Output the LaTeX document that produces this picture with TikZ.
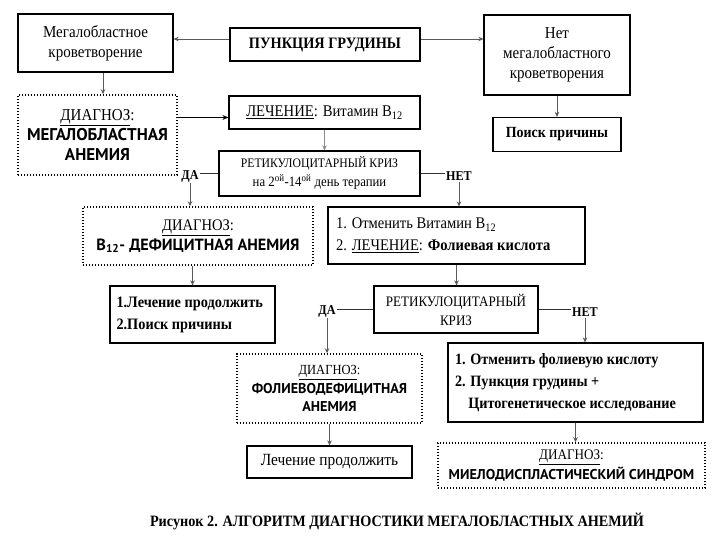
\documentclass[tikz,border=0pt]{standalone}
\usepackage{fontspec}
\setmainfont{Liberation Serif}[FakeStretch=0.9]
\newfontfamily\ptsans{PT Sans}
\usetikzlibrary{arrows.meta}
\newcommand{\sfdiag}{\ptsans\bfseries}
\newcommand{\fs}[2]{\fontsize{#1}{#2}\selectfont}
\tikzset{
  box/.style={draw=black, line width=1.2pt, inner sep=0pt, align=center},
  lbox/.style={draw=black, line width=1.2pt, inner ysep=0pt, align=flush left},
  dbox/.style={draw=black, line width=1.5pt, dash pattern=on 1.3pt off 1.7pt, inner sep=0pt, align=center},
  conn/.style={draw=black!65, line width=0.9pt, -{Stealth[length=5pt,width=4.5pt]}},
  thickconn/.style={draw=black, line width=1.6pt, -{Stealth[length=6pt,width=5pt]}},
  plain/.style={draw=black!80, line width=0.9pt},
  lbl/.style={inner sep=1pt, font=\fs{13.5}{15}\bfseries},
  caption/.style={inner sep=0pt, font=\fs{15.8}{18}\bfseries},
}
\begin{document}
\begin{tikzpicture}[x=1pt,y=-1pt]
\useasboundingbox (0,0) rectangle (720,540);
\fill[white] (0,0) rectangle (720,540);

% top row
\node[box, minimum width=155pt, minimum height=58pt, font=\fs{16.7}{20}] (mega) at (95.5,43) {Мегалобластное\\кроветворение};
\node[box, minimum width=190pt, minimum height=33pt, font=\fs{15.9}{18}\bfseries] (punk) at (325,44.5) {ПУНКЦИЯ ГРУДИНЫ};
\node[box, minimum width=146pt, minimum height=80pt, font=\fs{16.7}{20}] (net) at (557,55) {Нет\\мегалобластного\\кроветворения};
\node[box, minimum width=128pt, minimum height=34pt, font=\fs{15.5}{18}\bfseries] (poisk) at (557,134.5) {Поиск причины};

% second row
\node[dbox, minimum width=159pt, minimum height=80pt, font=\fs{16.7}{20}] (dg1) at (97.5,135) {\underline{ДИАГНОЗ}:\\{\sfdiag\fs{17}{20}МЕГАЛОБЛАСТНАЯ}\\{\sfdiag\fs{17}{20}АНЕМИЯ}};
\node[box, minimum width=191pt, minimum height=33pt, font=\fs{16.3}{18}] (lech) at (324.5,112.5) {\underline{ЛЕЧЕНИЕ}: Витамин B\textsubscript{12}};
\node[box, minimum width=201pt, minimum height=45pt, font=\fs{13}{19}] (ret1) at (319.5,173.5) {РЕТИКУЛОЦИТАРНЫЙ КРИЗ\\{\fs{14.2}{19}на 2\textsuperscript{ой}-14\textsuperscript{ой} день терапии}};

\node[lbl] (da1) at (190,176) {ДА};
\node[lbl] (net1) at (459,176) {НЕТ};

% third row
\node[dbox, minimum width=230pt, minimum height=58pt, font=\fs{16.2}{20}] (dg2) at (198,236) {\underline{ДИАГНОЗ}:\\{\sfdiag\fs{16.2}{20}B\textsubscript{12}- ДЕФИЦИТНАЯ АНЕМИЯ}};
\node[lbox, text width=241pt, inner xsep=8pt, minimum height=57pt, font=\fs{16.2}{22}] (otm1) at (456.5,235.5) {1. Отменить Витамин B\textsubscript{12}\\2. \underline{ЛЕЧЕНИЕ}: {\bfseries Фолиевая кислота}};

\node[lbox, text width=152pt, inner xsep=6.5pt, minimum height=57pt, font=\fs{15.9}{22}\bfseries] (lech2) at (192.5,314.5) {1.Лечение продолжить\\2.Поиск причины};
\node[box, minimum width=164pt, minimum height=47pt, font=\fs{14.5}{19}] (ret2) at (456,309.5) {РЕТИКУЛОЦИТАРНЫЙ\\КРИЗ};

\node[lbl] (da2) at (327,311) {ДА};
\node[lbl] (net2) at (585,312) {НЕТ};

% fourth row
\node[dbox, minimum width=185pt, minimum height=69pt, font=\fs{13.9}{18.5}] (dg3) at (329.5,388.5) {\underline{ДИАГНОЗ}:\\{\sfdiag\fs{14.2}{18.5}ФОЛИЕВОДЕФИЦИТНАЯ}\\{\sfdiag\fs{14.2}{18.5}АНЕМИЯ}};
\node[lbox, text width=241pt, inner xsep=7pt, minimum height=79pt, font=\fs{15.8}{22}\bfseries] (otm2) at (575.5,382.5) {1. Отменить фолиевую кислоту\\2. Пункция грудины +\\\hphantom{2.\,}Цитогенетическое исследование};

% fifth row
\node[box, minimum width=165pt, minimum height=32pt, font=\fs{17.1}{18}] (lech3) at (329.5,462) {Лечение продолжить};
\node[dbox, minimum width=267pt, minimum height=45pt, font=\fs{14.6}{20}] (dg4) at (571.5,465.5) {\underline{ДИАГНОЗ}:\\{\sfdiag\fs{14.2}{20}МИЕЛОДИСПЛАСТИЧЕСКИЙ СИНДРОМ}};

\node[caption] (cap) at (397,521) {Рисунок 2. АЛГОРИТМ ДИАГНОСТИКИ МЕГАЛОБЛАСТНЫХ АНЕМИЙ};

% connectors
\coordinate (pl) at ([yshift=5.5pt]punk.west);
\coordinate (pr) at ([yshift=5.5pt]punk.east);
\draw[conn] (pl) -- (pl -| mega.east);
\draw[conn] (pr) -- (pr -| net.west);
\coordinate (ms) at ([xshift=7.5pt]mega.south);
\draw[conn] (ms) -- (ms |- dg1.north);
\draw[conn] (net.south) -- (poisk.north);
\coordinate (de) at ([yshift=17.5pt]dg1.east);
\draw[thickconn] (de) -- (de -| lech.west);
\draw[conn, draw=black!45, line width=0.7pt] (lech.south) -- (lech.south |- ret1.north);

\draw[plain] (ret1.west) -- (ret1.west -| da1.east);
\draw[conn] (da1.south) -- (da1.south |- dg2.north);
\draw[plain] (ret1.east) -- (ret1.east -| net1.west);
\draw[conn] (net1.south) -- (net1.south |- otm1.north);

\draw[conn] (lech2.north |- dg2.south) -- (lech2.north);
\draw[conn] (otm1.south) -- (otm1.south |- ret2.north);

\draw[plain] (ret2.west) -- (ret2.west -| da2.east);
\draw[conn] (da2.south) -- (da2.south |- dg3.north);
\draw[plain] (ret2.east) -- (ret2.east -| net2.west);
\draw[conn] (net2.south) -- (net2.south |- otm2.north);

\draw[conn] (dg3.south) -- (lech3.north);
\draw[conn] (otm2.south) -- (otm2.south |- dg4.north);
\end{tikzpicture}
\end{document}
